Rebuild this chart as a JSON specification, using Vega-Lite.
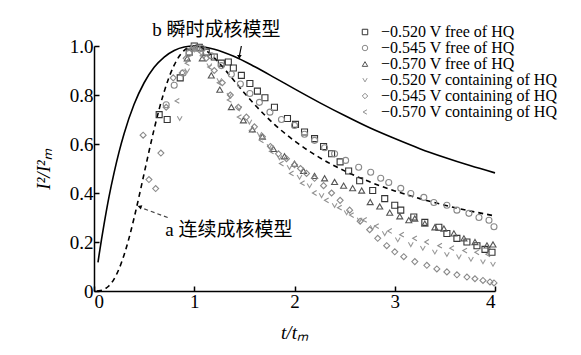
{
  "$schema": "https://vega.github.io/schema/vega-lite/v6.json",
  "width": 401,
  "height": 245,
  "autosize": {"type": "none"},
  "padding": {"left": 94, "top": 46, "right": 86, "bottom": 64},
  "background": "white",
  "config": {
    "view": {"stroke": null},
    "font": "Times New Roman, Liberation Serif, serif",
    "axis": {
      "grid": false,
      "domainColor": "black",
      "domainWidth": 1.5,
      "tickColor": "black",
      "tickWidth": 1.5,
      "tickSize": -5,
      "labelFont": "Times New Roman, Liberation Serif, serif",
      "labelFontSize": 19,
      "labelColor": "black",
      "labelPadding": 6,
      "titleFont": "Times New Roman, Liberation Serif, serif",
      "titleFontSize": 19,
      "titleFontWeight": "normal",
      "titleFontStyle": "italic",
      "titleColor": "black"
    },
    "legend": {
      "labelFont": "Times New Roman, Liberation Serif, serif",
      "labelFontSize": 16,
      "labelColor": "black",
      "labelOffset": 8,
      "labelLimit": 0,
      "rowPadding": -1,
      "symbolSize": 30,
      "symbolStrokeWidth": 1,
      "padding": 0
    }
  },
  "datasets": {
    "inst": [
      {"t": 0.04, "v": 0.117}, {"t": 0.05, "v": 0.145}, {"t": 0.075, "v": 0.211}, {"t": 0.1, "v": 0.272},
      {"t": 0.15, "v": 0.385}, {"t": 0.2, "v": 0.482}, {"t": 0.25, "v": 0.568}, {"t": 0.3, "v": 0.642},
      {"t": 0.4, "v": 0.762}, {"t": 0.5, "v": 0.850}, {"t": 0.6, "v": 0.913}, {"t": 0.7, "v": 0.955},
      {"t": 0.8, "v": 0.982}, {"t": 0.9, "v": 0.996}, {"t": 1.0, "v": 1.0}, {"t": 1.1, "v": 0.996},
      {"t": 1.2, "v": 0.987}, {"t": 1.4, "v": 0.957}, {"t": 1.6, "v": 0.916}, {"t": 1.8, "v": 0.871},
      {"t": 2.0, "v": 0.825}, {"t": 2.25, "v": 0.769}, {"t": 2.5, "v": 0.716}, {"t": 2.75, "v": 0.666},
      {"t": 3.0, "v": 0.622}, {"t": 3.25, "v": 0.581}, {"t": 3.5, "v": 0.545}, {"t": 3.75, "v": 0.512},
      {"t": 4.0, "v": 0.482}
    ],
    "prog": [
      {"t": 0.03, "v": 0.0002}, {"t": 0.05, "v": 0.0008}, {"t": 0.1, "v": 0.0065}, {"t": 0.15, "v": 0.0214},
      {"t": 0.2, "v": 0.0488}, {"t": 0.25, "v": 0.0905}, {"t": 0.3, "v": 0.1469}, {"t": 0.35, "v": 0.2169},
      {"t": 0.4, "v": 0.2981}, {"t": 0.45, "v": 0.387}, {"t": 0.5, "v": 0.4797}, {"t": 0.55, "v": 0.5723},
      {"t": 0.6, "v": 0.6607}, {"t": 0.65, "v": 0.7421}, {"t": 0.7, "v": 0.8137}, {"t": 0.75, "v": 0.874},
      {"t": 0.8, "v": 0.9221}, {"t": 0.85, "v": 0.958}, {"t": 0.9, "v": 0.9822}, {"t": 0.95, "v": 0.9958},
      {"t": 1.0, "v": 1.0}, {"t": 1.1, "v": 0.9861}, {"t": 1.2, "v": 0.9518}, {"t": 1.3, "v": 0.9066},
      {"t": 1.4, "v": 0.8574}, {"t": 1.5, "v": 0.8084}, {"t": 1.6, "v": 0.762}, {"t": 1.8, "v": 0.6801},
      {"t": 2.0, "v": 0.6126}, {"t": 2.25, "v": 0.5446}, {"t": 2.5, "v": 0.4902}, {"t": 2.75, "v": 0.4456},
      {"t": 3.0, "v": 0.4085}, {"t": 3.25, "v": 0.377}, {"t": 3.5, "v": 0.3501}, {"t": 3.75, "v": 0.3268},
      {"t": 4.0, "v": 0.3064}
    ],
    "pts": [
      {"s": "−0.520 V free of HQ", "t": 0.65, "v": 0.72}, {"s": "−0.520 V free of HQ", "t": 0.73, "v": 0.70},
      {"s": "−0.520 V free of HQ", "t": 0.86, "v": 0.87}, {"s": "−0.520 V free of HQ", "t": 0.95, "v": 0.975},
      {"s": "−0.520 V free of HQ", "t": 1.0, "v": 1.0}, {"s": "−0.520 V free of HQ", "t": 1.05, "v": 0.995},
      {"s": "−0.520 V free of HQ", "t": 1.12, "v": 0.975}, {"s": "−0.520 V free of HQ", "t": 1.2, "v": 0.955},
      {"s": "−0.520 V free of HQ", "t": 1.27, "v": 0.93}, {"s": "−0.520 V free of HQ", "t": 1.34, "v": 0.935},
      {"s": "−0.520 V free of HQ", "t": 1.39, "v": 0.91}, {"s": "−0.520 V free of HQ", "t": 1.47, "v": 0.88},
      {"s": "−0.520 V free of HQ", "t": 1.555, "v": 0.847}, {"s": "−0.520 V free of HQ", "t": 1.63, "v": 0.816},
      {"s": "−0.520 V free of HQ", "t": 1.705, "v": 0.789}, {"s": "−0.520 V free of HQ", "t": 1.8, "v": 0.75},
      {"s": "−0.520 V free of HQ", "t": 1.93, "v": 0.704}, {"s": "−0.520 V free of HQ", "t": 2.01, "v": 0.68},
      {"s": "−0.520 V free of HQ", "t": 2.1, "v": 0.649}, {"s": "−0.520 V free of HQ", "t": 2.2, "v": 0.622},
      {"s": "−0.520 V free of HQ", "t": 2.29, "v": 0.59}, {"s": "−0.520 V free of HQ", "t": 2.37, "v": 0.56},
      {"s": "−0.520 V free of HQ", "t": 2.455, "v": 0.527}, {"s": "−0.520 V free of HQ", "t": 2.54, "v": 0.49},
      {"s": "−0.520 V free of HQ", "t": 2.65, "v": 0.45}, {"s": "−0.520 V free of HQ", "t": 2.78, "v": 0.41},
      {"s": "−0.520 V free of HQ", "t": 2.9, "v": 0.377}, {"s": "−0.520 V free of HQ", "t": 3.0, "v": 0.35},
      {"s": "−0.520 V free of HQ", "t": 3.06, "v": 0.33}, {"s": "−0.520 V free of HQ", "t": 3.19, "v": 0.302},
      {"s": "−0.520 V free of HQ", "t": 3.3, "v": 0.28}, {"s": "−0.520 V free of HQ", "t": 3.44, "v": 0.26},
      {"s": "−0.520 V free of HQ", "t": 3.52, "v": 0.235}, {"s": "−0.520 V free of HQ", "t": 3.62, "v": 0.215},
      {"s": "−0.520 V free of HQ", "t": 3.72, "v": 0.2}, {"s": "−0.520 V free of HQ", "t": 3.82, "v": 0.185},
      {"s": "−0.520 V free of HQ", "t": 3.9, "v": 0.17}, {"s": "−0.520 V free of HQ", "t": 3.97, "v": 0.158},

      {"s": "−0.545 V free of HQ", "t": 0.72, "v": 0.76}, {"s": "−0.545 V free of HQ", "t": 0.8, "v": 0.84},
      {"s": "−0.545 V free of HQ", "t": 0.89, "v": 0.89}, {"s": "−0.545 V free of HQ", "t": 0.95, "v": 0.97},
      {"s": "−0.545 V free of HQ", "t": 1.0, "v": 1.0}, {"s": "−0.545 V free of HQ", "t": 1.08, "v": 0.99},
      {"s": "−0.545 V free of HQ", "t": 1.17, "v": 0.96}, {"s": "−0.545 V free of HQ", "t": 1.27, "v": 0.92},
      {"s": "−0.545 V free of HQ", "t": 1.37, "v": 0.885}, {"s": "−0.545 V free of HQ", "t": 1.46, "v": 0.845},
      {"s": "−0.545 V free of HQ", "t": 1.555, "v": 0.806}, {"s": "−0.545 V free of HQ", "t": 1.65, "v": 0.77},
      {"s": "−0.545 V free of HQ", "t": 1.755, "v": 0.73}, {"s": "−0.545 V free of HQ", "t": 1.87, "v": 0.70},
      {"s": "−0.545 V free of HQ", "t": 2.0, "v": 0.676}, {"s": "−0.545 V free of HQ", "t": 2.1, "v": 0.64},
      {"s": "−0.545 V free of HQ", "t": 2.2, "v": 0.615}, {"s": "−0.545 V free of HQ", "t": 2.3, "v": 0.585},
      {"s": "−0.545 V free of HQ", "t": 2.4, "v": 0.56}, {"s": "−0.545 V free of HQ", "t": 2.51, "v": 0.533},
      {"s": "−0.545 V free of HQ", "t": 2.64, "v": 0.505}, {"s": "−0.545 V free of HQ", "t": 2.76, "v": 0.485},
      {"s": "−0.545 V free of HQ", "t": 2.86, "v": 0.46}, {"s": "−0.545 V free of HQ", "t": 2.94, "v": 0.443},
      {"s": "−0.545 V free of HQ", "t": 3.06, "v": 0.419}, {"s": "−0.545 V free of HQ", "t": 3.16, "v": 0.398},
      {"s": "−0.545 V free of HQ", "t": 3.29, "v": 0.382}, {"s": "−0.545 V free of HQ", "t": 3.39, "v": 0.361},
      {"s": "−0.545 V free of HQ", "t": 3.52, "v": 0.35}, {"s": "−0.545 V free of HQ", "t": 3.62, "v": 0.33},
      {"s": "−0.545 V free of HQ", "t": 3.74, "v": 0.317}, {"s": "−0.545 V free of HQ", "t": 3.84, "v": 0.30},
      {"s": "−0.545 V free of HQ", "t": 3.94, "v": 0.289}, {"s": "−0.545 V free of HQ", "t": 3.99, "v": 0.262},

      {"s": "−0.570 V free of HQ", "t": 0.93, "v": 0.95}, {"s": "−0.570 V free of HQ", "t": 1.0, "v": 0.99},
      {"s": "−0.570 V free of HQ", "t": 1.08, "v": 0.95}, {"s": "−0.570 V free of HQ", "t": 1.17, "v": 0.88},
      {"s": "−0.570 V free of HQ", "t": 1.255, "v": 0.822}, {"s": "−0.570 V free of HQ", "t": 1.37, "v": 0.751},
      {"s": "−0.570 V free of HQ", "t": 1.49, "v": 0.697}, {"s": "−0.570 V free of HQ", "t": 1.58, "v": 0.66},
      {"s": "−0.570 V free of HQ", "t": 1.68, "v": 0.63}, {"s": "−0.570 V free of HQ", "t": 1.79, "v": 0.58},
      {"s": "−0.570 V free of HQ", "t": 1.9, "v": 0.55}, {"s": "−0.570 V free of HQ", "t": 2.0, "v": 0.52},
      {"s": "−0.570 V free of HQ", "t": 2.09, "v": 0.49}, {"s": "−0.570 V free of HQ", "t": 2.2, "v": 0.47},
      {"s": "−0.570 V free of HQ", "t": 2.3, "v": 0.46}, {"s": "−0.570 V free of HQ", "t": 2.4, "v": 0.445},
      {"s": "−0.570 V free of HQ", "t": 2.49, "v": 0.43}, {"s": "−0.570 V free of HQ", "t": 2.58, "v": 0.42},
      {"s": "−0.570 V free of HQ", "t": 2.67, "v": 0.41}, {"s": "−0.570 V free of HQ", "t": 2.755, "v": 0.363},
      {"s": "−0.570 V free of HQ", "t": 2.85, "v": 0.345}, {"s": "−0.570 V free of HQ", "t": 2.95, "v": 0.32},
      {"s": "−0.570 V free of HQ", "t": 3.05, "v": 0.305}, {"s": "−0.570 V free of HQ", "t": 3.14, "v": 0.289},
      {"s": "−0.570 V free of HQ", "t": 3.2, "v": 0.296}, {"s": "−0.570 V free of HQ", "t": 3.3, "v": 0.275},
      {"s": "−0.570 V free of HQ", "t": 3.4, "v": 0.26}, {"s": "−0.570 V free of HQ", "t": 3.49, "v": 0.255},
      {"s": "−0.570 V free of HQ", "t": 3.59, "v": 0.235}, {"s": "−0.570 V free of HQ", "t": 3.69, "v": 0.215},
      {"s": "−0.570 V free of HQ", "t": 3.8, "v": 0.2}, {"s": "−0.570 V free of HQ", "t": 3.92, "v": 0.186},
      {"s": "−0.570 V free of HQ", "t": 3.98, "v": 0.19},

      {"s": "−0.520 V containing of HQ", "t": 0.855, "v": 0.705}, {"s": "−0.520 V containing of HQ", "t": 0.93, "v": 0.9},
      {"s": "−0.520 V containing of HQ", "t": 1.0, "v": 0.985}, {"s": "−0.520 V containing of HQ", "t": 1.07, "v": 0.97},
      {"s": "−0.520 V containing of HQ", "t": 1.15, "v": 0.92}, {"s": "−0.520 V containing of HQ", "t": 1.25, "v": 0.86},
      {"s": "−0.520 V containing of HQ", "t": 1.35, "v": 0.8}, {"s": "−0.520 V containing of HQ", "t": 1.45, "v": 0.745},
      {"s": "−0.520 V containing of HQ", "t": 1.55, "v": 0.69}, {"s": "−0.520 V containing of HQ", "t": 1.65, "v": 0.64},
      {"s": "−0.520 V containing of HQ", "t": 1.75, "v": 0.59}, {"s": "−0.520 V containing of HQ", "t": 1.85, "v": 0.545},
      {"s": "−0.520 V containing of HQ", "t": 1.95, "v": 0.505}, {"s": "−0.520 V containing of HQ", "t": 2.05, "v": 0.465},
      {"s": "−0.520 V containing of HQ", "t": 2.15, "v": 0.43}, {"s": "−0.520 V containing of HQ", "t": 2.27, "v": 0.39},
      {"s": "−0.520 V containing of HQ", "t": 2.4, "v": 0.35}, {"s": "−0.520 V containing of HQ", "t": 2.52, "v": 0.32},
      {"s": "−0.520 V containing of HQ", "t": 2.65, "v": 0.29}, {"s": "−0.520 V containing of HQ", "t": 2.78, "v": 0.26},
      {"s": "−0.520 V containing of HQ", "t": 2.9, "v": 0.235}, {"s": "−0.520 V containing of HQ", "t": 3.03, "v": 0.21},
      {"s": "−0.520 V containing of HQ", "t": 3.16, "v": 0.19}, {"s": "−0.520 V containing of HQ", "t": 3.28, "v": 0.175},
      {"s": "−0.520 V containing of HQ", "t": 3.4, "v": 0.16}, {"s": "−0.520 V containing of HQ", "t": 3.52, "v": 0.15},
      {"s": "−0.520 V containing of HQ", "t": 3.64, "v": 0.14}, {"s": "−0.520 V containing of HQ", "t": 3.76, "v": 0.13},
      {"s": "−0.520 V containing of HQ", "t": 3.88, "v": 0.12}, {"s": "−0.520 V containing of HQ", "t": 3.98, "v": 0.11},

      {"s": "−0.545 V containing of HQ", "t": 0.49, "v": 0.636}, {"s": "−0.545 V containing of HQ", "t": 0.548, "v": 0.455},
      {"s": "−0.545 V containing of HQ", "t": 0.615, "v": 0.418}, {"s": "−0.545 V containing of HQ", "t": 0.667, "v": 0.563},
      {"s": "−0.545 V containing of HQ", "t": 0.72, "v": 0.75}, {"s": "−0.545 V containing of HQ", "t": 0.79, "v": 0.87},
      {"s": "−0.545 V containing of HQ", "t": 0.88, "v": 0.89}, {"s": "−0.545 V containing of HQ", "t": 0.92, "v": 0.95},
      {"s": "−0.545 V containing of HQ", "t": 0.98, "v": 0.99}, {"s": "−0.545 V containing of HQ", "t": 1.05, "v": 0.985},
      {"s": "−0.545 V containing of HQ", "t": 1.12, "v": 0.95}, {"s": "−0.545 V containing of HQ", "t": 1.2, "v": 0.9},
      {"s": "−0.545 V containing of HQ", "t": 1.28, "v": 0.85}, {"s": "−0.545 V containing of HQ", "t": 1.36, "v": 0.8},
      {"s": "−0.545 V containing of HQ", "t": 1.44, "v": 0.75}, {"s": "−0.545 V containing of HQ", "t": 1.52, "v": 0.71},
      {"s": "−0.545 V containing of HQ", "t": 1.6, "v": 0.67}, {"s": "−0.545 V containing of HQ", "t": 1.68, "v": 0.63},
      {"s": "−0.545 V containing of HQ", "t": 1.76, "v": 0.59}, {"s": "−0.545 V containing of HQ", "t": 1.84, "v": 0.56},
      {"s": "−0.545 V containing of HQ", "t": 1.92, "v": 0.54}, {"s": "−0.545 V containing of HQ", "t": 2.0, "v": 0.515},
      {"s": "−0.545 V containing of HQ", "t": 2.06, "v": 0.5}, {"s": "−0.545 V containing of HQ", "t": 2.12, "v": 0.48},
      {"s": "−0.545 V containing of HQ", "t": 2.2, "v": 0.46}, {"s": "−0.545 V containing of HQ", "t": 2.29, "v": 0.43},
      {"s": "−0.545 V containing of HQ", "t": 2.37, "v": 0.4}, {"s": "−0.545 V containing of HQ", "t": 2.455, "v": 0.37},
      {"s": "−0.545 V containing of HQ", "t": 2.55, "v": 0.33}, {"s": "−0.545 V containing of HQ", "t": 2.655, "v": 0.285},
      {"s": "−0.545 V containing of HQ", "t": 2.75, "v": 0.25}, {"s": "−0.545 V containing of HQ", "t": 2.83, "v": 0.215},
      {"s": "−0.545 V containing of HQ", "t": 2.92, "v": 0.185}, {"s": "−0.545 V containing of HQ", "t": 3.0, "v": 0.16},
      {"s": "−0.545 V containing of HQ", "t": 3.09, "v": 0.14}, {"s": "−0.545 V containing of HQ", "t": 3.2, "v": 0.12},
      {"s": "−0.545 V containing of HQ", "t": 3.32, "v": 0.105}, {"s": "−0.545 V containing of HQ", "t": 3.42, "v": 0.09},
      {"s": "−0.545 V containing of HQ", "t": 3.52, "v": 0.078}, {"s": "−0.545 V containing of HQ", "t": 3.62, "v": 0.066},
      {"s": "−0.545 V containing of HQ", "t": 3.72, "v": 0.057}, {"s": "−0.545 V containing of HQ", "t": 3.8, "v": 0.05},
      {"s": "−0.545 V containing of HQ", "t": 3.88, "v": 0.043}, {"s": "−0.545 V containing of HQ", "t": 3.95, "v": 0.037},
      {"s": "−0.545 V containing of HQ", "t": 3.99, "v": 0.033},

      {"s": "−0.570 V containing of HQ", "t": 0.83, "v": 0.776}, {"s": "−0.570 V containing of HQ", "t": 0.93, "v": 0.93},
      {"s": "−0.570 V containing of HQ", "t": 1.0, "v": 0.99}, {"s": "−0.570 V containing of HQ", "t": 1.08, "v": 0.96},
      {"s": "−0.570 V containing of HQ", "t": 1.155, "v": 0.914}, {"s": "−0.570 V containing of HQ", "t": 1.25, "v": 0.85},
      {"s": "−0.570 V containing of HQ", "t": 1.35, "v": 0.78}, {"s": "−0.570 V containing of HQ", "t": 1.45, "v": 0.71},
      {"s": "−0.570 V containing of HQ", "t": 1.57, "v": 0.656}, {"s": "−0.570 V containing of HQ", "t": 1.67, "v": 0.615},
      {"s": "−0.570 V containing of HQ", "t": 1.77, "v": 0.57}, {"s": "−0.570 V containing of HQ", "t": 1.87, "v": 0.52},
      {"s": "−0.570 V containing of HQ", "t": 1.97, "v": 0.48}, {"s": "−0.570 V containing of HQ", "t": 2.08, "v": 0.44},
      {"s": "−0.570 V containing of HQ", "t": 2.2, "v": 0.4}, {"s": "−0.570 V containing of HQ", "t": 2.32, "v": 0.37},
      {"s": "−0.570 V containing of HQ", "t": 2.45, "v": 0.34}, {"s": "−0.570 V containing of HQ", "t": 2.57, "v": 0.31},
      {"s": "−0.570 V containing of HQ", "t": 2.7, "v": 0.29}, {"s": "−0.570 V containing of HQ", "t": 2.82, "v": 0.265},
      {"s": "−0.570 V containing of HQ", "t": 2.95, "v": 0.245}, {"s": "−0.570 V containing of HQ", "t": 3.07, "v": 0.23},
      {"s": "−0.570 V containing of HQ", "t": 3.2, "v": 0.215}, {"s": "−0.570 V containing of HQ", "t": 3.32, "v": 0.2},
      {"s": "−0.570 V containing of HQ", "t": 3.45, "v": 0.185}, {"s": "−0.570 V containing of HQ", "t": 3.57, "v": 0.175},
      {"s": "−0.570 V containing of HQ", "t": 3.7, "v": 0.165}, {"s": "−0.570 V containing of HQ", "t": 3.82, "v": 0.158},
      {"s": "−0.570 V containing of HQ", "t": 3.93, "v": 0.15}
    ],
    "notes": [
      {"t": 1.22, "v": 1.064, "label": "b 瞬时成核模型"},
      {"t": 1.345, "v": 0.251, "label": "a 连续成核模型"}
    ],
    "arrowB": [{"t": 1.47, "v": 1.0, "t2": 1.45, "v2": 0.96}],
    "arrowA": [{"t": 0.735, "v": 0.3, "t2": 0.47, "v2": 0.34}],
    "heads": [
      {"t": 1.45, "v": 0.955, "a": 0},
      {"t": 0.455, "v": 0.344, "a": 110}
    ]
  },
  "layer": [
    {
      "data": {"name": "inst"},
      "mark": {"type": "line", "color": "black", "strokeWidth": 1.6, "interpolate": "monotone"},
      "encoding": {
        "x": {"field": "t", "type": "quantitative", "scale": {"domain": [0, 4], "nice": false},
              "axis": {"values": [0, 1, 2, 3, 4], "format": "d", "title": "t/tₘ", "titlePadding": 12}},
        "y": {"field": "v", "type": "quantitative", "scale": {"domain": [0, 1], "nice": false},
              "axis": {"values": [0, 0.2, 0.4, 0.6, 0.8, 1.0], "labelExpr": "datum.value == 0 ? '0' : format(datum.value, '.1f')", "title": "I²/I²ₘ", "titlePadding": 16}}
      }
    },
    {
      "data": {"name": "prog"},
      "mark": {"type": "line", "color": "black", "strokeWidth": 1.6, "strokeDash": [5, 4], "interpolate": "monotone"},
      "encoding": {
        "x": {"field": "t", "type": "quantitative"},
        "y": {"field": "v", "type": "quantitative"}
      }
    },
    {
      "data": {"name": "pts"},
      "mark": {"type": "point", "filled": false, "size": 36, "strokeWidth": 1.1, "opacity": 1},
      "encoding": {
        "x": {"field": "t", "type": "quantitative"},
        "y": {"field": "v", "type": "quantitative"},
        "shape": {
          "field": "s", "type": "nominal",
          "scale": {
            "domain": ["−0.520 V free of HQ", "−0.545 V free of HQ", "−0.570 V free of HQ", "−0.520 V containing of HQ", "−0.545 V containing of HQ", "−0.570 V containing of HQ"],
            "range": ["square", "circle", "triangle-up", "M-0.8,-0.7L0,0.7L0.8,-0.7", "diamond", "M0.7,-0.8L-0.7,0L0.7,0.8"]
          },
          "legend": {"orient": "none", "legendX": 263, "legendY": -22, "title": null}
        },
        "color": {
          "field": "s", "type": "nominal",
          "scale": {
            "domain": ["−0.520 V free of HQ", "−0.545 V free of HQ", "−0.570 V free of HQ", "−0.520 V containing of HQ", "−0.545 V containing of HQ", "−0.570 V containing of HQ"],
            "range": ["#333333", "#8a8a8a", "#555555", "#999999", "#8a8a8a", "#8f8f8f"]
          },
          "legend": {"orient": "none", "legendX": 263, "legendY": -22, "title": null}
        }
      }
    },
    {
      "data": {"name": "notes"},
      "mark": {"type": "text", "font": "Times New Roman, Liberation Serif, Noto Sans CJK SC, serif", "fontSize": 19, "color": "black", "align": "center", "baseline": "middle"},
      "encoding": {
        "x": {"field": "t", "type": "quantitative"},
        "y": {"field": "v", "type": "quantitative"},
        "text": {"field": "label", "type": "nominal"}
      }
    },
    {
      "data": {"name": "arrowB"},
      "mark": {"type": "rule", "color": "black", "strokeWidth": 1.2},
      "encoding": {
        "x": {"field": "t", "type": "quantitative"},
        "y": {"field": "v", "type": "quantitative"},
        "x2": {"field": "t2"},
        "y2": {"field": "v2"}
      }
    },
    {
      "data": {"name": "arrowA"},
      "mark": {"type": "rule", "color": "#444444", "strokeWidth": 1.2, "strokeDash": [4, 3]},
      "encoding": {
        "x": {"field": "t", "type": "quantitative"},
        "y": {"field": "v", "type": "quantitative"},
        "x2": {"field": "t2"},
        "y2": {"field": "v2"}
      }
    },
    {
      "data": {"name": "heads"},
      "mark": {"type": "point", "filled": true, "color": "black", "size": 22, "shape": "triangle-down", "opacity": 1},
      "encoding": {
        "x": {"field": "t", "type": "quantitative"},
        "y": {"field": "v", "type": "quantitative"},
        "angle": {"field": "a", "type": "quantitative", "scale": null}
      }
    }
  ]
}
